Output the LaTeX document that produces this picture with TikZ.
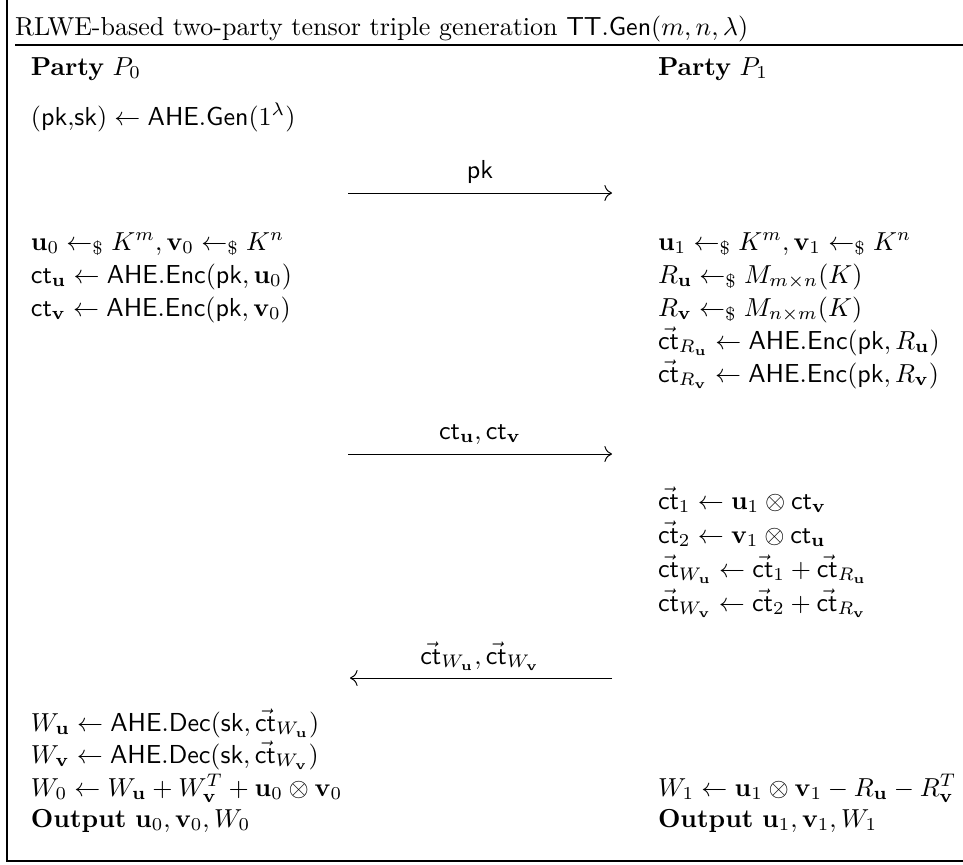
\documentclass[tikz,border=0pt]{standalone}
\usepackage{amsmath,amssymb}
\usetikzlibrary{arrows.meta}
\newcommand{\smpl}{\mathrel{\leftarrow_{\$}}}
\newcommand{\ctv}{\vec{\mathsf{ct}}}
\newcommand{\bu}{\mathbf{u}}
\newcommand{\bv}{\mathbf{v}}
\newcommand{\BT}[1]{\scalebox{1.3}{#1}}
\begin{document}
\begin{tikzpicture}[x=0.5pt,y=-0.5pt,
  txt/.style={anchor=base west, inner sep=0pt, outer sep=0pt},
  lbl/.style={anchor=base, inner sep=0pt, outer sep=0pt},
  msg/.style={-{Computer Modern Rightarrow[scale=1.4]}, line width=0.5pt},
  frame/.style={line width=0.9pt}]
\useasboundingbox (0,0) rectangle (963,864);
% frame
\coordinate (ftop) at (7,0);
\coordinate (fbl) at (7,861);
\coordinate (fbr) at (963,861);
\coordinate (rl) at (15,45);
\coordinate (rr) at (963,45);
\draw[frame] (ftop) -- (fbl) -- (fbr);
\draw[frame] (rl) -- (rr);
% title
\node[txt] (title) at (15,35) {\BT{RLWE-based two-party tensor triple generation $\mathsf{TT.Gen}(m,n,\lambda)$}};
% parties
\node[txt] (p0) at (31,75) {\BT{\textbf{Party} $P_0$}};
\node[txt] (p1) at (658,75) {\BT{\textbf{Party} $P_1$}};
% P0 keygen
\node[txt] (kg) at (31,125) {\BT{$(\mathsf{pk{,}sk}) \gets \mathsf{AHE.Gen}(1^\lambda)$}};
% message 1
\coordinate (m1s) at (348,193);
\coordinate (m1e) at (612,193);
\draw[msg] (m1s) -- (m1e);
\node[lbl] (m1l) at (480,178) {\BT{$\mathsf{pk}$}};
% P0 rows
\node[txt] (l1) at (31,250) {\BT{$\bu_0 \smpl K^m, \bv_0 \smpl K^n$}};
\node[txt] (l2) at (31,283) {\BT{$\mathsf{ct}_{\bu} \gets \mathsf{AHE.Enc}(\mathsf{pk}, \bu_0)$}};
\node[txt] (l3) at (31,316) {\BT{$\mathsf{ct}_{\bv} \gets \mathsf{AHE.Enc}(\mathsf{pk}, \bv_0)$}};
% P1 rows
\node[txt] (r1) at (658,250) {\BT{$\bu_1 \smpl K^m, \bv_1 \smpl K^n$}};
\node[txt] (r2) at (658,283) {\BT{$R_{\bu} \smpl M_{m\times n}(K)$}};
\node[txt] (r3) at (658,316) {\BT{$R_{\bv} \smpl M_{n\times m}(K)$}};
\node[txt] (r4) at (658,349) {\BT{$\ctv_{R_{\bu}} \gets \mathsf{AHE.Enc}(\mathsf{pk}, R_{\bu})$}};
\node[txt] (r5) at (658,382) {\BT{$\ctv_{R_{\bv}} \gets \mathsf{AHE.Enc}(\mathsf{pk}, R_{\bv})$}};
% message 2
\coordinate (m2s) at (348,454);
\coordinate (m2e) at (612,454);
\draw[msg] (m2s) -- (m2e);
\node[lbl] (m2l) at (480,439) {\BT{$\mathsf{ct}_{\bu}, \mathsf{ct}_{\bv}$}};
% P1 rows 2
\node[txt] (r6) at (658,509) {\BT{$\ctv_1 \gets \bu_1 \otimes \mathsf{ct}_{\bv}$}};
\node[txt] (r7) at (658,543) {\BT{$\ctv_2 \gets \bv_1 \otimes \mathsf{ct}_{\bu}$}};
\node[txt] (r8) at (658,577) {\BT{$\ctv_{W_{\bu}} \gets \ctv_1 + \ctv_{R_{\bu}}$}};
\node[txt] (r9) at (658,611) {\BT{$\ctv_{W_{\bv}} \gets \ctv_2 + \ctv_{R_{\bv}}$}};
% message 3
\coordinate (m3s) at (612,678);
\coordinate (m3e) at (350,678);
\draw[msg] (m3s) -- (m3e);
\node[lbl] (m3l) at (480,664) {\BT{$\ctv_{W_{\bu}}, \ctv_{W_{\bv}}$}};
% P0 final
\node[txt] (l4) at (31,731) {\BT{$W_{\bu} \gets \mathsf{AHE.Dec}(\mathsf{sk}, \ctv_{W_{\bu}})$}};
\node[txt] (l5) at (31,763) {\BT{$W_{\bv} \gets \mathsf{AHE.Dec}(\mathsf{sk}, \ctv_{W_{\bv}})$}};
\node[txt] (l6) at (31,796) {\BT{$W_0 \gets W_{\bu} + W_{\bv}^T + \bu_0 \otimes \bv_0$}};
\node[txt] (l7) at (31,827) {\BT{\textbf{Output} $\bu_0, \bv_0, W_0$}};
% P1 final
\node[txt] (r10) at (658,796) {\BT{$W_1 \gets \bu_1 \otimes \bv_1 - R_{\bu} - R_{\bv}^T$}};
\node[txt] (r11) at (658,827) {\BT{\textbf{Output} $\bu_1, \bv_1, W_1$}};
\end{tikzpicture}
\end{document}
